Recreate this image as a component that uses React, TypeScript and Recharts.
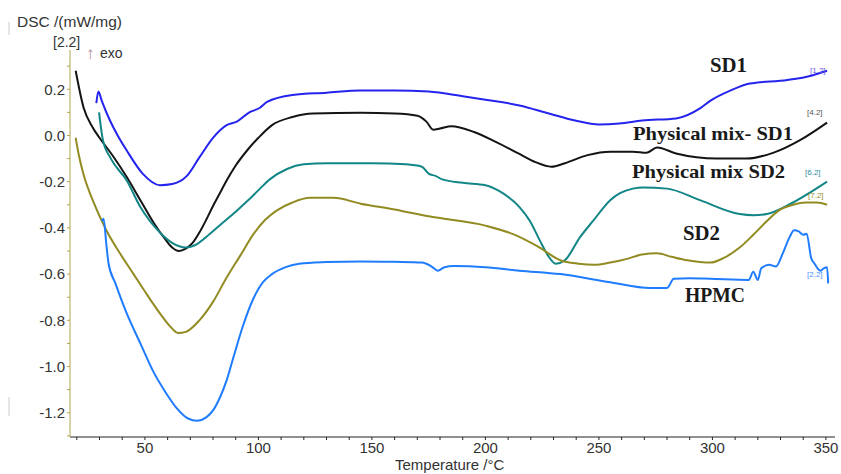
// DSC thermograms — SD1, SD2, physical mixes and HPMC

import { LineChart, Line, XAxis, YAxis } from 'recharts';

// [temperature °C, DSC mW/mg]
const sd1: [number, number][] = [
  [28.6, 0.14], [29.5, 0.19], [31, 0.15], [34.6, 0.065], [38, 0.0], [42, -0.065],
  [49, -0.165], [56.6, -0.215], [62, -0.21], [68.5, -0.175], [74, -0.095],
  [80, -0.01], [86, 0.045], [90.5, 0.06], [96, 0.1], [100.7, 0.12],
  [103.8, 0.145], [115, 0.175], [130, 0.185], [145, 0.195], [160, 0.195],
  [175, 0.19], [190, 0.17], [200, 0.155], [215, 0.13], [228, 0.095],
  [239.5, 0.065], [250, 0.048], [259, 0.052], [269, 0.065], [284, 0.074],
  [294.5, 0.117], [299, 0.15], [308, 0.195], [316.5, 0.225], [333, 0.24],
  [344, 0.26], [350.5, 0.28],
];

const physMixSd1: [number, number][] = [
  [19.5, 0.28], [23, 0.12], [27, 0.035], [30, -0.01], [36, -0.09], [42, -0.18],
  [48, -0.28], [54, -0.38], [59, -0.45], [62, -0.485], [65, -0.5], [68, -0.49],
  [71, -0.465], [74, -0.42], [77, -0.365], [80, -0.305], [83, -0.25], [86, -0.195],
  [90, -0.13], [95, -0.065], [100, -0.01], [106, 0.045], [115, 0.08], [124, 0.095],
  [145, 0.098], [160, 0.095], [170, 0.085], [174, 0.06], [177, 0.025], [180, 0.03],
  [185, 0.04], [195, 0.015], [205, -0.03], [215, -0.08], [222, -0.115],
  [229, -0.135], [235, -0.12], [245, -0.085], [255, -0.07], [265, -0.07],
  [271, -0.075], [275.6, -0.052], [284, -0.078], [302, -0.1], [315, -0.1],
  [327, -0.074], [338.6, -0.02], [350.5, 0.056],
];

const physMixSd2: [number, number][] = [
  [29.8, 0.1], [31.5, -0.02], [35, -0.1], [42, -0.195], [48, -0.31],
  [56.6, -0.42], [62, -0.465], [68, -0.485], [72, -0.475], [78.7, -0.425],
  [84, -0.38], [90, -0.33], [95, -0.285], [100.7, -0.23], [105, -0.19],
  [112.6, -0.145], [120, -0.125], [130, -0.12], [150, -0.12], [165, -0.125],
  [172, -0.135], [175, -0.165], [178, -0.175], [181, -0.19], [190, -0.205],
  [200, -0.215], [206, -0.24], [215, -0.31], [219.6, -0.37], [224, -0.455],
  [227.6, -0.52], [231, -0.555], [235, -0.54], [241.7, -0.44], [247.4, -0.37],
  [255, -0.28], [259.3, -0.25], [265, -0.23], [269.4, -0.225], [280, -0.23],
  [294.5, -0.28], [312, -0.34], [318, -0.345], [324, -0.34], [335.5, -0.29],
  [350.5, -0.2],
];

const sd2: [number, number][] = [
  [19.5, -0.01], [21, -0.09], [23, -0.17], [27, -0.28], [33, -0.41], [39, -0.51],
  [45, -0.6], [51, -0.69], [57, -0.775], [61, -0.825], [64.6, -0.855], [68, -0.85],
  [74, -0.8], [80, -0.72], [86, -0.615], [92, -0.52], [97.6, -0.43], [103, -0.365],
  [108, -0.325], [115, -0.29], [122.7, -0.27], [133, -0.27], [145, -0.295],
  [160, -0.32], [175, -0.35], [200, -0.39], [213, -0.43], [223, -0.48],
  [233, -0.54], [241, -0.555], [248, -0.56], [255, -0.55], [262, -0.535],
  [269, -0.515], [275.6, -0.51], [282, -0.525], [289, -0.54], [299, -0.55],
  [305, -0.53], [312, -0.485], [318, -0.43], [324, -0.37], [330, -0.32],
  [335.5, -0.3], [341, -0.29], [346, -0.29], [350.5, -0.3],
];

const hpmc: [number, number][] = [
  [31, -0.37], [31.8, -0.36], [33, -0.47], [34, -0.555], [37, -0.64], [42, -0.77],
  [48, -0.9], [53.6, -1.02], [59, -1.11], [64, -1.18], [69, -1.225], [73, -1.235],
  [77, -1.22], [80, -1.19], [83, -1.135], [86, -1.06], [89, -0.96], [93, -0.83],
  [97.6, -0.71], [102, -0.635], [106, -0.6], [112, -0.57], [118, -0.555],
  [130, -0.548], [145, -0.545], [160, -0.547], [172, -0.55], [176, -0.565],
  [179, -0.585], [182, -0.57], [186, -0.565], [200, -0.57], [215, -0.585],
  [233, -0.6], [255, -0.635], [272.5, -0.66], [280, -0.66], [283, -0.62],
  [290, -0.618], [299, -0.62], [316, -0.625], [318, -0.59], [320, -0.625],
  [321.5, -0.575], [325, -0.56], [328, -0.567], [331, -0.51], [334, -0.44],
  [336, -0.41], [338, -0.415], [340, -0.43], [341.5, -0.425], [343.5, -0.53],
  [345, -0.555], [347.5, -0.585], [349, -0.575], [350.5, -0.57], [351, -0.64],
];

const tempTicks = [20, 30, 40, 50, 60, 70, 80, 90, 100, 110, 120, 130, 140, 150, 160, 170,
  180, 190, 200, 210, 220, 230, 240, 250, 260, 270, 280, 290, 300, 310, 320, 330, 340, 350];
const tempLabels = [50, 100, 150, 200, 250, 300, 350];
const dscTicks = [-1.3, -1.2, -1.1, -1.0, -0.9, -0.8, -0.7, -0.6, -0.5, -0.4, -0.3, -0.2,
  -0.1, 0.0, 0.1, 0.2, 0.3];
const dscLabels = ['-1.2', '-1.0', '-0.8', '-0.6', '-0.4', '-0.2', '0.0', '0.2'];

const toRows = (s: [number, number][]) => s.map(([t, v]) => ({ t, v }));

const FONT = '"Liberation Sans", Arial, sans-serif';
const SERIF = '"Liberation Serif", "Times New Roman", serif';
const tickStyle = { fill: '#333', fontSize: 15, fontFamily: FONT };

export default function App() {
  return (
    <div style={{ position: 'absolute', left: 0, top: 0, width: 841, height: 474, background: '#fff' }}>
      <LineChart width={841} height={474} margin={{ top: 50, right: 6, bottom: 7, left: 0 }}>
        <XAxis
          type="number"
          dataKey="t"
          domain={[17, 354]}
          ticks={tempTicks}
          allowDataOverflow
          height={30}
          tickSize={3}
          stroke="#222"
          tick={tickStyle}
          tickFormatter={(v: number) => (tempLabels.includes(v) ? String(v) : '')}
        />
        <YAxis
          type="number"
          dataKey="v"
          domain={[-1.305, 0.37]}
          ticks={dscTicks}
          allowDataOverflow
          width={70}
          tickSize={3}
          stroke="#b3a650"
          tick={tickStyle}
          tickFormatter={(v: number) => {
            const s = v.toFixed(1);
            return dscLabels.includes(s) ? s : '';
          }}
        />
        <Line data={toRows(sd1)} dataKey="v" type="monotone" stroke="#2424ee" strokeWidth={2} dot={false} isAnimationActive={false} />
        <Line data={toRows(physMixSd1)} dataKey="v" type="monotone" stroke="#141414" strokeWidth={2} dot={false} isAnimationActive={false} />
        <Line data={toRows(physMixSd2)} dataKey="v" type="monotone" stroke="#128686" strokeWidth={2} dot={false} isAnimationActive={false} />
        <Line data={toRows(sd2)} dataKey="v" type="monotone" stroke="#928b22" strokeWidth={2} dot={false} isAnimationActive={false} />
        <Line data={toRows(hpmc)} dataKey="v" type="monotone" stroke="#1f7cff" strokeWidth={2} dot={false} isAnimationActive={false} />
      </LineChart>
      <svg width={841} height={474} style={{ position: 'absolute', left: 0, top: 0, pointerEvents: 'none' }}>
        <line x1={9} y1={22} x2={9} y2={35} stroke="#ccc" />
        <line x1={9} y1={397} x2={9} y2={416} stroke="#ccc" />
        <text x={17} y={27} fontFamily={FONT} fontSize={15} fill="#333" textLength={105} lengthAdjust="spacingAndGlyphs">DSC /(mW/mg)</text>
        <text x={53} y={47} fontFamily={FONT} fontSize={14} fill="#333">[2.2]</text>
        <text x={86} y={59} fontFamily={FONT} fontSize={17} fill="#b08a98">↑</text>
        <text x={100} y={58} fontFamily={FONT} fontSize={14} fill="#333">exo</text>
        <text x={395} y={470} fontFamily={FONT} fontSize={15} fill="#333">Temperature /°C</text>

        <g fontFamily={SERIF} fontWeight="bold" fill="#1a1a1a">
          <text x={710} y={72} fontSize={20} textLength={37} lengthAdjust="spacingAndGlyphs">SD1</text>
          <text x={633} y={140} fontSize={19} textLength={160} lengthAdjust="spacingAndGlyphs">Physical mix- SD1</text>
          <text x={632} y={178} fontSize={19} textLength={153} lengthAdjust="spacingAndGlyphs">Physical mix SD2</text>
          <text x={683} y={240} fontSize={20} textLength={37} lengthAdjust="spacingAndGlyphs">SD2</text>
          <text x={685} y={302} fontSize={20} textLength={60} lengthAdjust="spacingAndGlyphs">HPMC</text>
        </g>

        <g fontFamily={FONT} fontSize={8}>
          <text x={810} y={73} fill="#6a5ae0">[1.2]</text>
          <text x={807} y={115} fill="#555">[4.2]</text>
          <text x={805} y={175} fill="#2a8a9a">[6.2]</text>
          <text x={808} y={198} fill="#9a9030">[7.2]</text>
          <text x={807} y={277} fill="#4a90ff">[2.2]</text>
        </g>
      </svg>
    </div>
  );
}
